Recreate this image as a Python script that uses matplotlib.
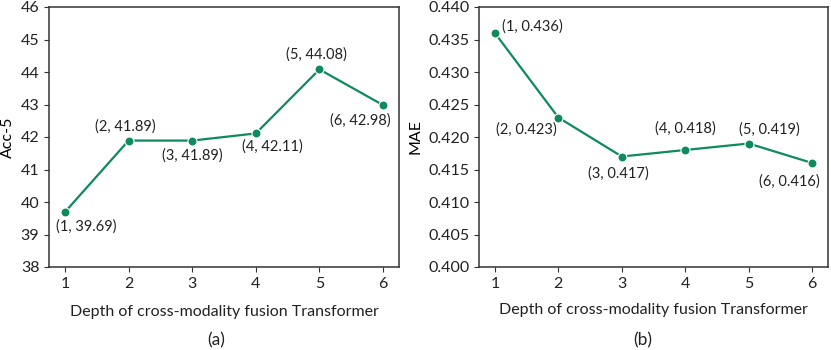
import matplotlib
matplotlib.use("Agg")
import matplotlib.pyplot as plt

plt.rcParams['font.family'] = ['Lato', 'DejaVu Sans']

depth = [1, 2, 3, 4, 5, 6]
acc5 = [39.69, 41.89, 41.89, 42.11, 44.08, 42.98]
mae = [0.436, 0.423, 0.417, 0.418, 0.419, 0.416]
acc_labels = ["(1, 39.69)", "(2, 41.89)", "(3, 41.89)", "(4, 42.11)", "(5, 44.08)", "(6, 42.98)"]
mae_labels = ["(1, 0.436)", "(2, 0.423)", "(3, 0.417)", "(4, 0.418)", "(5, 0.419)", "(6, 0.416)"]
acc_ticks = [38, 39, 40, 41, 42, 43, 44, 45, 46]
mae_ticks = [0.400, 0.405, 0.410, 0.415, 0.420, 0.425, 0.430, 0.435, 0.440]
xlabel = "Depth of cross-modality fusion Transformer"

color = '#0f8a5c'
fig = plt.figure(figsize=(8.31, 3.5), dpi=100)
ax1 = fig.add_axes([49/831, 1-267/350, 350/831, 260/350])
ax2 = fig.add_axes([479/831, 1-267/350, 349/831, 260/350])

acc_off = [(21, -14), (-3, 14), (0, -15), (17, -13), (-3, 15), (-23, -15)]
mae_off = [(38, 6), (-32, -12), (-3, -17), (0, 21), (21, 14), (-23, -19)]

for ax, y, labs, offs, ticks, ylab, fmt in [
        (ax1, acc5, acc_labels, acc_off, acc_ticks, "Acc-5", "{:.0f}"),
        (ax2, mae, mae_labels, mae_off, mae_ticks, "MAE", "{:.3f}")]:
    ax.plot(depth, y, color=color, lw=1.6, marker='o', ms=6.5,
            mec='white', mew=0.8)
    for xi, yi, lab, off in zip(depth, y, labs, offs):
        ax.annotate(lab, (xi, yi), xytext=off, textcoords='offset pixels',
                    ha='center', va='center', fontsize=10.5, color='#222222')
    ax.set_xlim(0.75, 6.25)
    ax.set_ylim(ticks[0], ticks[-1])
    ax.set_yticks(ticks)
    ax.set_yticklabels([fmt.format(t) for t in ticks])
    ax.set_xticks(depth)
    ax.set_ylabel(ylab, fontsize=11.5, labelpad=4)
    ax.tick_params(labelsize=11.5, color='#333333', labelcolor='#222222')
    for s in ax.spines.values():
        s.set_color('#333333')
        s.set_linewidth(1.1)

fig.text((49+399)/2/831, 1-312/350, xlabel, ha='center', va='center', fontsize=11.5, color='#222222')
fig.text((479+828)/2/831, 1-310/350, xlabel, ha='center', va='center', fontsize=11.5, color='#222222')
fig.text(216/831, 1-340/350, "(a)", ha='center', va='center', fontsize=12.5, color='#222222')
fig.text(643/831, 1-340/350, "(b)", ha='center', va='center', fontsize=12.5, color='#222222')

fig.savefig("out.png", dpi=100)
